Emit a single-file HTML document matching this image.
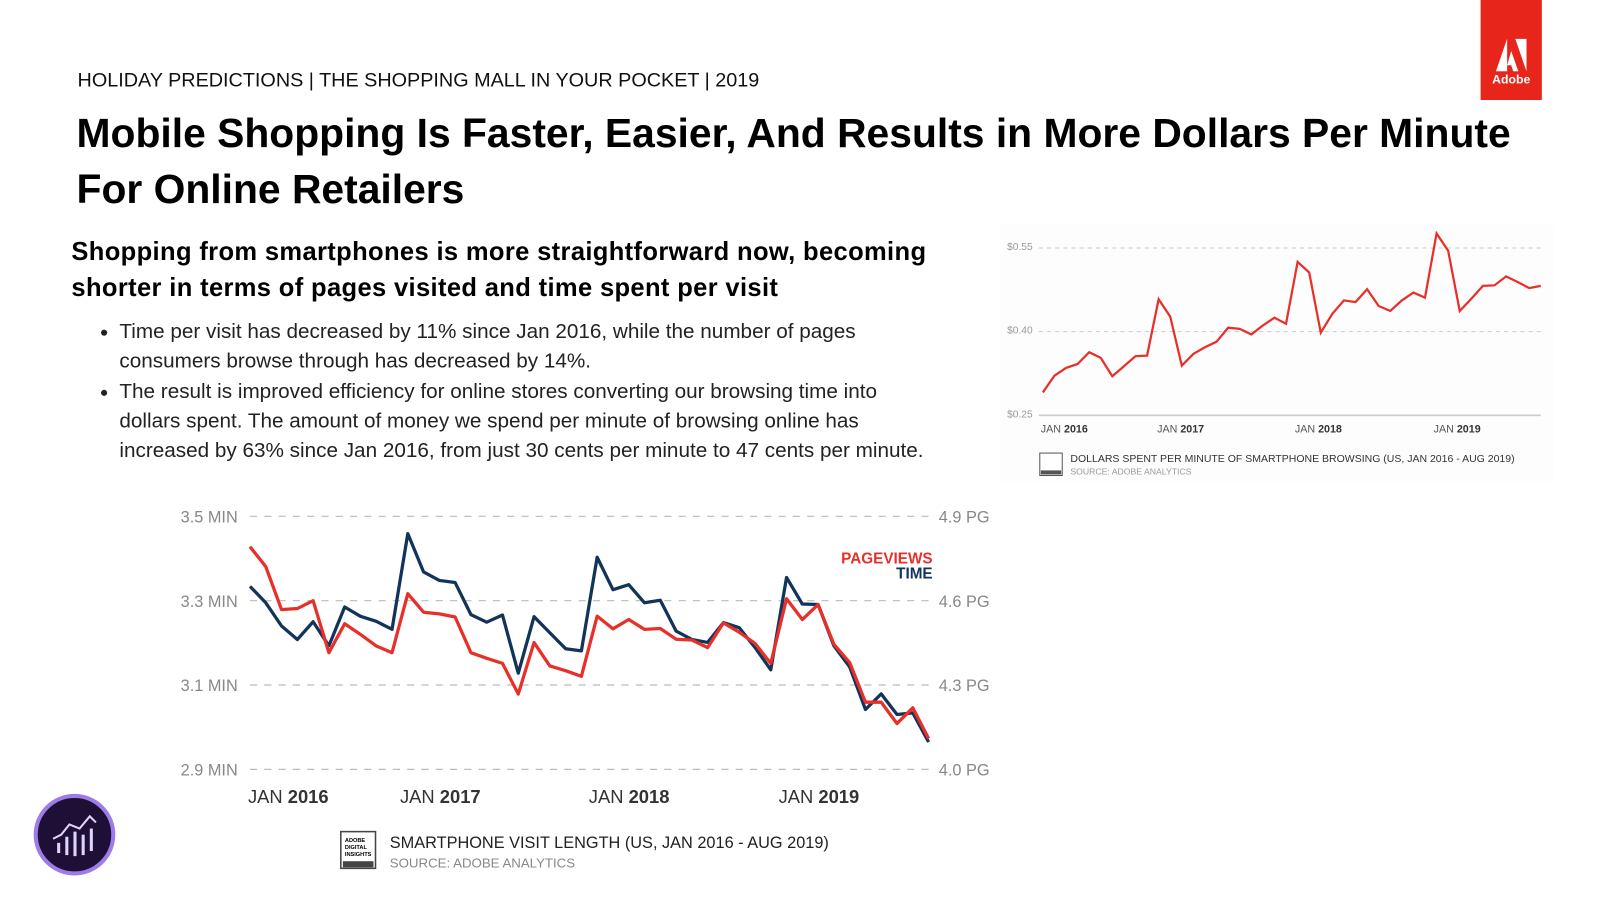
<!DOCTYPE html>
<html><head><meta charset="utf-8">
<style>
body{margin:0;width:1600px;height:900px;background:#fff;position:relative;overflow:hidden;font-family:"Liberation Sans",sans-serif;color:#000}
#wrap{position:absolute;left:0;top:0;width:1568px;height:882px;transform:scale(1.0204);transform-origin:0 0}
.a{position:absolute}
</style></head><body>
<div id="wrap">
<div class="a" style="left:76px;top:68px;font-size:19.4px;color:#111">HOLIDAY PREDICTIONS | THE SHOPPING MALL IN YOUR POCKET | 2019</div>
<div class="a" style="left:1451px;top:0;width:60px;height:98px;background:#e8251b;color:#fff;text-align:center">
<svg width="30" height="32" viewBox="0 0 30 32" style="margin-top:38px"><polygon points="0,32 11,0 11,32" fill="#fff"/><polygon points="19,0 30,0 30,32" fill="#fff"/><polygon points="15,12 22,32 17,32 15,26 11,26" fill="#fff"/></svg>
<div style="font-size:12px;font-weight:bold;margin-top:-4px">Adobe</div></div>
<div class="a" style="left:75px;top:104px;font-size:40px;font-weight:bold;line-height:55px;width:1440px">Mobile Shopping Is Faster, Easier, And Results in More Dollars Per Minute For Online Retailers</div>
<div class="a" style="left:70px;top:230px;font-size:25px;font-weight:bold;line-height:35px;width:880px;letter-spacing:0.35px">Shopping from smartphones is more straightforward now, becoming shorter in terms of pages visited and time spent per visit</div>
<ul class="a" style="left:70px;top:311px;margin:0;padding-left:47px;font-size:20.3px;line-height:29.3px;width:840px;color:#222">
<li>Time per visit has decreased by 11% since Jan 2016, while the number of pages<br>consumers browse through has decreased by 14%.</li>
<li>The result is improved efficiency for online stores converting our browsing time into<br>dollars spent. The amount of money we spend per minute of browsing online has<br>increased by 63% since Jan 2016, from just 30 cents per minute to 47 cents per minute.</li>
</ul>

<svg class="a" style="left:0;top:0" width="1568" height="882">
<rect x="980" y="220" width="542" height="252" fill="#fdfdfd"/>
<g id="small" font-family="Liberation Sans" fill="#999" font-size="10"></g>
<g id="main" font-family="Liberation Sans"></g>
<g>
<circle cx="73" cy="818" r="38" fill="#1d0f35" stroke="#9d7ce8" stroke-width="4"/>
<polyline points="52,822 60,818 68,808 78,812 88,800 94,806" fill="none" stroke="#e0d4ff" stroke-width="2"/>
<rect x="56" y="826" width="3" height="10" fill="#e0d4ff"/><rect x="64" y="820" width="3" height="18" fill="#e0d4ff"/><rect x="72" y="815" width="3" height="24" fill="#e0d4ff"/><rect x="80" y="818" width="3" height="20" fill="#e0d4ff"/><rect x="88" y="812" width="3" height="22" fill="#e0d4ff"/>
</g>
<g><rect x="334" y="815" width="34" height="36" fill="#fff" stroke="#444" stroke-width="1.5"/><rect x="336" y="844" width="30" height="6" fill="#444"/><text x="338" y="825" font-size="5.5" font-weight="bold">ADOBE</text><text x="338" y="832" font-size="5.5" font-weight="bold">DIGITAL</text><text x="338" y="839" font-size="5.5" font-weight="bold">INSIGHTS</text></g>
<text x="382" y="831" font-size="16" fill="#222">SMARTPHONE VISIT LENGTH (US, JAN 2016 - AUG 2019)</text>
<text x="382" y="850" font-size="13" fill="#888">SOURCE: ADOBE ANALYTICS</text>
<g><rect x="1019" y="444" width="22" height="22" fill="#fff" stroke="#555"/><rect x="1020" y="461" width="20" height="4" fill="#555"/></g>
<text x="1049" y="453" font-size="10.3" fill="#333">DOLLARS SPENT PER MINUTE OF SMARTPHONE BROWSING (US, JAN 2016 - AUG 2019)</text>
<text x="1049" y="465" font-size="8.5" fill="#999">SOURCE: ADOBE ANALYTICS</text>
</svg>
</div>

<script>
const dollarValues=[.291,.321,.335,.342,.363,.353,.320,.338,.356,.357,.458,.427,.339,.360,.372,.382,.407,.405,.395,.411,.425,.414,.525,.506,.398,.432,.456,.453,.476,.446,.437,.456,.470,.461,.576,.545,.437,.459,.482,.483,.499,.489,.478,.482];
const dollarTicks=[0.25,0.40,0.55];
const dollarTickLabels=["$0.25","$0.40","$0.55"];
const yearLabels=["2016","2017","2018","2019"];
const timeValues=[3.334,3.295,3.240,3.208,3.250,3.193,3.285,3.263,3.251,3.232,3.459,3.368,3.348,3.343,3.267,3.249,3.266,3.128,3.262,3.224,3.186,3.181,3.403,3.326,3.338,3.295,3.301,3.228,3.208,3.201,3.248,3.236,3.189,3.136,3.355,3.292,3.291,3.193,3.143,3.042,3.079,3.030,3.034,2.965];
const pageviewValues=[4.792,4.721,4.568,4.572,4.600,4.415,4.518,4.480,4.439,4.415,4.625,4.559,4.553,4.542,4.415,4.395,4.377,4.268,4.451,4.368,4.351,4.331,4.545,4.500,4.533,4.498,4.501,4.463,4.460,4.433,4.521,4.488,4.448,4.377,4.607,4.533,4.586,4.445,4.380,4.239,4.239,4.163,4.219,4.110];
const timeTicks=[2.9,3.1,3.3,3.5];
const timeTickLabels=["2.9 MIN","3.1 MIN","3.3 MIN","3.5 MIN"];
const pageTicks=[4.0,4.3,4.6,4.9];
const pageTickLabels=["4.0 PG","4.3 PG","4.6 PG","4.9 PG"];

const NS="http://www.w3.org/2000/svg";
function mk(p,t,a){const e=document.createElementNS(NS,t);for(const k in a)e.setAttribute(k,a[k]);p.appendChild(e);return e;}

const sg=document.getElementById('small');
const sx=i=>1022+i*(488/43), sy=v=>407-(v-0.25)/0.30*164;
dollarTicks.forEach((t,i)=>{
 const l=mk(sg,'line',{x1:1018,x2:1510,y1:sy(t),y2:sy(t),stroke:'#ccc','stroke-width':i?1:1.5,'stroke-dasharray':i?'4,4':'none'});
 
 
 const tx=mk(sg,'text',{x:987,y:sy(t)+2});tx.textContent=dollarTickLabels[i];
 
 
});
const smallLabelPos=[1020,1134,1269,1405];
yearLabels.forEach((y,i)=>{
 const tx=mk(sg,'text',{x:smallLabelPos[i],y:424,fill:'#555','font-size':'10.5'});
 tx.innerHTML='JAN <tspan font-weight="bold" fill="#333">'+y+'</tspan>';
 
 
});
const sp=mk(sg,'polyline',{points:dollarValues.map((v,i)=>sx(i)+','+sy(v)).join(' '),fill:'none',stroke:'#e8302a','stroke-width':2.2});



const mg=document.getElementById('main');
const mx=i=>245+i*(665/43);
const ty=v=>754-(v-2.9)/0.6*248;
const py=v=>754-(v-4.0)/0.9*248;
timeTicks.forEach((t,i)=>{
 const y=ty(t);
 const l=mk(mg,'line',{x1:245,x2:910,y1:y,y2:y,stroke:'#bbb','stroke-width':1.2,'stroke-dasharray':'7,7'});
 
 
 const a=mk(mg,'text',{x:233,y:y+6,'text-anchor':'end','font-size':'16',fill:'#888'});a.textContent=timeTickLabels[i];
 
 
 const b=mk(mg,'text',{x:920,y:py(pageTicks[i])+6,'font-size':'16',fill:'#888'});b.textContent=pageTickLabels[i];
 
 
});
const xLabelPos=[243,392,577,763];
yearLabels.forEach((y,i)=>{
 const tx=mk(mg,'text',{x:xLabelPos[i],y:787,'font-size':'18',fill:'#333'});
 tx.innerHTML='JAN <tspan font-weight="bold">'+y+'</tspan>';
 
 
});
const tl=mk(mg,'polyline',{points:timeValues.map((v,i)=>mx(i)+','+ty(v)).join(' '),fill:'none',stroke:'#12345a','stroke-width':3.2,'stroke-linejoin':'round'});


const pl=mk(mg,'polyline',{points:pageviewValues.map((v,i)=>mx(i)+','+py(v)).join(' '),fill:'none',stroke:'#e8302a','stroke-width':3.2,'stroke-linejoin':'round'});


const l1=mk(mg,'text',{x:914,y:552,'text-anchor':'end','font-size':'15','font-weight':'bold',fill:'#e8302a'});l1.textContent='PAGEVIEWS';


const l2=mk(mg,'text',{x:914,y:567,'text-anchor':'end','font-size':'15','font-weight':'bold',fill:'#12345a'});l2.textContent='TIME';


</script>
</body></html>
